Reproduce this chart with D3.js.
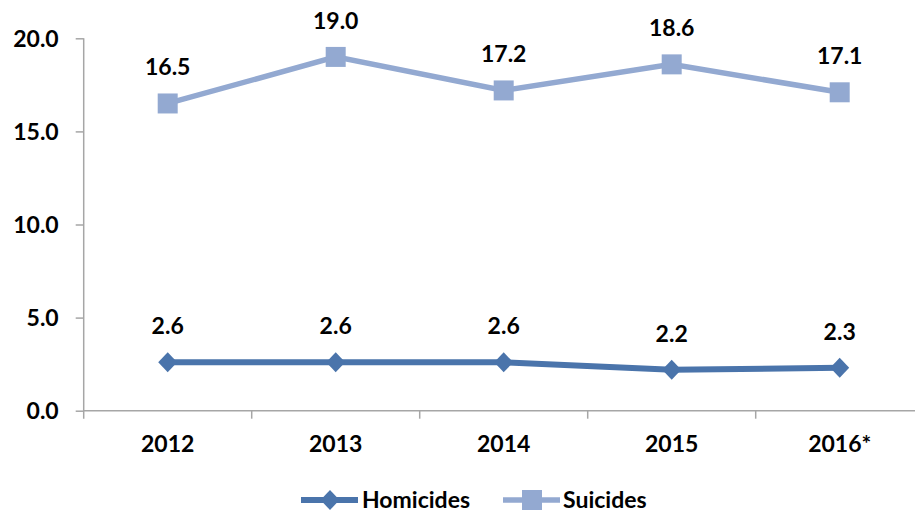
<!DOCTYPE html>
<html>
<head>
<meta charset="utf-8">
<script src="https://cdn.jsdelivr.net/npm/d3@7"></script>
<style>
  body { margin: 0; background: #fff; }
  text { font-family: Lato, "Open Sans", sans-serif; font-weight: bold; fill: #000; }
</style>
</head>
<body>
<div id="root"></div>
<script>
// chart data
const years = ["2012", "2013", "2014", "2015", "2016*"];
const homicides = [2.6, 2.6, 2.6, 2.2, 2.3];
const suicides = [16.5, 19.0, 17.2, 18.6, 17.1];
const yTicks = [0, 5, 10, 15, 20];

const series = [
  { name: "Homicides", values: homicides, color: "#4a74ab", width: 6, marker: "diamond" },
  { name: "Suicides", values: suicides, color: "#93a9d1", width: 5.5, marker: "square" }
];

let width = 915, height = 512;
let plotLeft = 83.7, plotTop = 38.3, plotBottom = 410.7;
let fontSize = "23px";

let x = d3.scaleBand().domain(years).range([plotLeft, plotLeft + 168 * years.length]).padding(0);
let y = d3.scaleLinear().domain([0, 20]).range([plotBottom, plotTop]);

let svg = d3.select("#root").append("svg")
  .attr("width", width)
  .attr("height", height);

// y axis
let yAxis = svg.append("g")
  .attr("transform", "translate(" + plotLeft + ",0)")
  .call(d3.axisLeft(y).tickValues(yTicks).tickSize(8).tickPadding(17).tickFormat(d3.format(".1f")));
yAxis.select(".domain").attr("stroke", "#a6a6a6").attr("stroke-width", 1.5)
  .attr("d", "M0," + plotTop + "V" + (plotBottom + 8));
yAxis.selectAll(".tick line").attr("stroke", "#a6a6a6").attr("stroke-width", 1.5);
yAxis.selectAll(".tick text").style("font-size", fontSize).attr("dy", "0.36em");

// x axis line + category boundary ticks
svg.append("line")
  .attr("x1", plotLeft).attr("x2", width)
  .attr("y1", y(0)).attr("y2", y(0))
  .attr("stroke", "#a6a6a6").attr("stroke-width", 1.5);
svg.selectAll(".xtick").data(years.slice(1)).enter().append("line")
  .attr("x1", (d) => x(d)).attr("x2", (d) => x(d))
  .attr("y1", y(0)).attr("y2", y(0) + 8)
  .attr("stroke", "#a6a6a6").attr("stroke-width", 1.5);
svg.selectAll(".xlabel").data(years).enter().append("text")
  .attr("x", (d) => x(d) + x.bandwidth() / 2)
  .attr("y", 452)
  .attr("text-anchor", "middle")
  .style("font-size", fontSize)
  .text((d) => d);

// marker shapes
const markerPath = (type) => {
  if (type === "diamond") return "M0,-10L9.5,0L0,10L-9.5,0Z";
  return "M-10,-10H10V10H-10Z";
};

let cx = (i) => x(years[i]) + x.bandwidth() / 2;

let line = d3.line()
  .x((d, i) => cx(i))
  .y((d) => y(d));

series.forEach((s) => {
  let g = svg.append("g");
  g.append("path")
    .datum(s.values)
    .attr("fill", "none")
    .attr("stroke", s.color)
    .attr("stroke-width", s.width)
    .attr("d", line);
  g.selectAll(".mark").data(s.values).enter().append("path")
    .attr("transform", (d, i) => "translate(" + cx(i) + "," + y(d) + ")")
    .attr("d", markerPath(s.marker))
    .attr("fill", s.color);
  g.selectAll(".lbl").data(s.values).enter().append("text")
    .attr("x", (d, i) => cx(i))
    .attr("y", (d) => y(d) - 28)
    .attr("text-anchor", "middle")
    .style("font-size", fontSize)
    .text((d) => d.toFixed(1));
});

// legend
let legend = svg.append("g");
const legendPos = [{ x: 301, tx: 362 }, { x: 503, tx: 563 }];
series.forEach((s, i) => {
  let lx = legendPos[i].x;
  legend.append("line")
    .attr("x1", lx).attr("x2", lx + 57)
    .attr("y1", 500).attr("y2", 500)
    .attr("stroke", s.color).attr("stroke-width", s.width);
  legend.append("path")
    .attr("transform", "translate(" + (lx + 29) + ",500)")
    .attr("d", markerPath(s.marker))
    .attr("fill", s.color);
  legend.append("text")
    .attr("x", legendPos[i].tx)
    .attr("y", 500)
    .attr("dy", "0.35em")
    .style("font-size", fontSize)
    .text(s.name);
});
</script>
</body>
</html>
